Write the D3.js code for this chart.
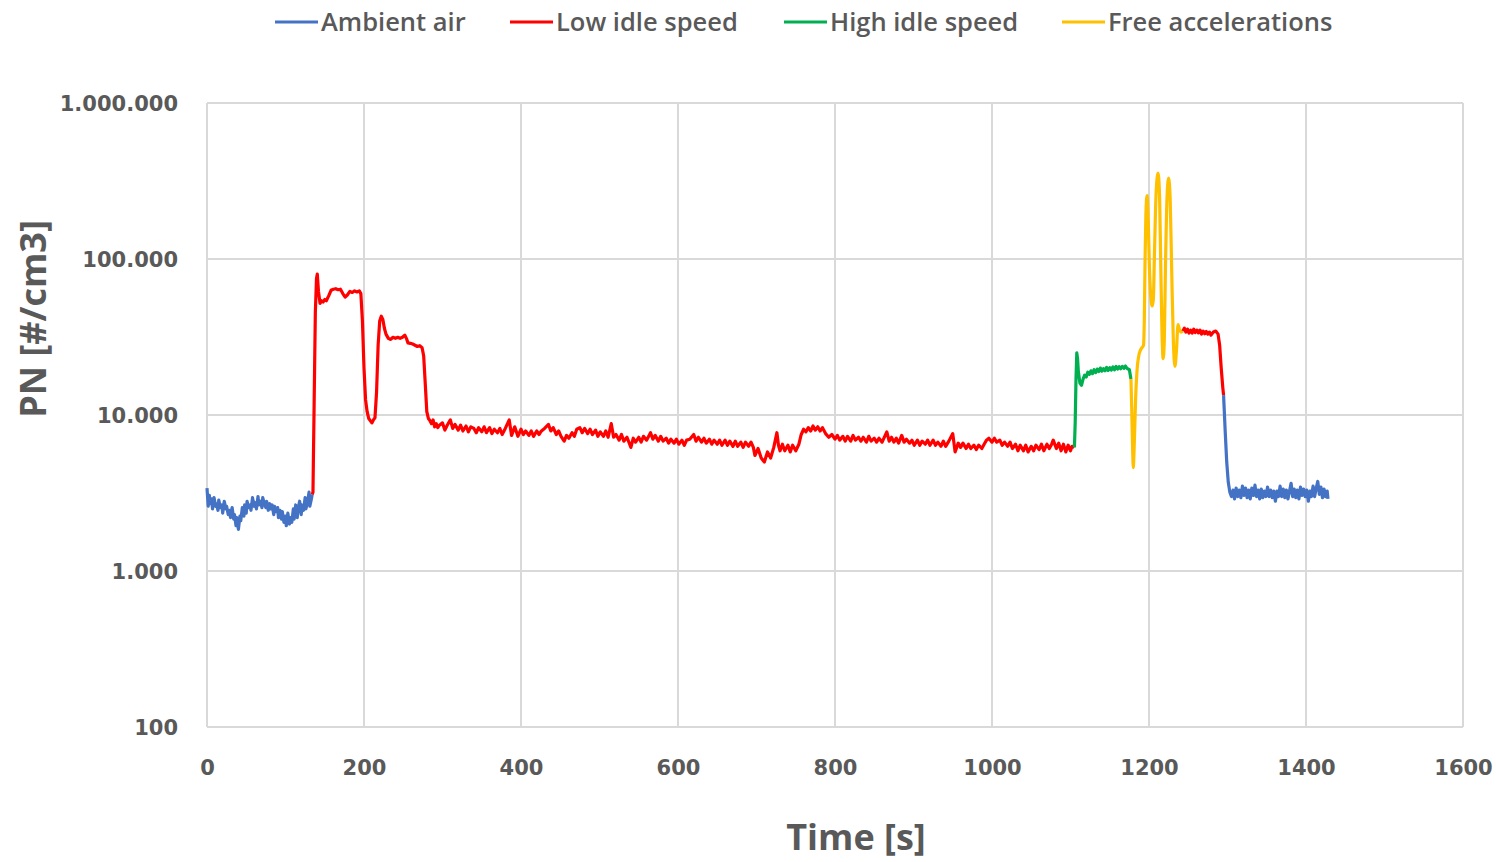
<!DOCTYPE html>
<html><head><meta charset="utf-8">
<script src="https://cdn.jsdelivr.net/npm/d3@7"></script>
<style>body{margin:0;background:#fff}svg{display:block}</style>
</head><body>
<script>
// ---- data: [time s, PN #/cm3] ----
const ambientStart = [[0,3400],[1.5,2600],[3,3050],[4,2700],[6,2900],[7,2500],[9,2950],[11,2600],[12,2700],[14,2450],[15,2850],[17,2550],[19,2650],[20,2350],[22,2800],[24,2500],[25,2600],[27,2300],[29,2450],[30,2200],[32,2550],[34,2150],[35,2300],[37,1950],[38,2200],[40,1850],[42,2250],[43,2100],[45,2550],[47,2250],[48,2650],[50,2350],[51,2800],[53,2550],[55,2650],[56,2450],[58,2950],[60,2600],[61,2750],[63,2500],[65,3000],[66,2650],[68,2800],[70,2550],[71,2950],[73,2700],[75,2550],[76,2800],[78,2450],[80,2700],[81,2500],[83,2650],[85,2300],[86,2600],[88,2400],[90,2550],[91,2200],[93,2450],[95,2150],[96,2400],[98,2050],[100,2250],[101,1950],[103,2350],[105,2000],[106,2200],[108,2050],[110,2500],[111,2150],[113,2650],[115,2200],[116,2500],[118,2800],[120,2300],[121,2650],[123,2450],[125,2950],[126,2500],[128,2750],[130,3200],[131,2600],[133,2900],[134,3100]];
const lowIdle1 = [[134,3100],[135,3200],[136.5,12000],[138,45000],[139.5,75000],[140.5,80000],[142,62000],[144,52000],[146,54000],[148,53000],[150,55000],[152,54000],[155,58000],[158,63000],[161,64000],[164,64500],[167,63500],[170,64000],[173,60000],[176,57000],[179,59000],[182,62000],[185,61000],[188,62500],[191,61500],[194,62500],[196,60000],[198,40000],[200,20000],[202,12500],[204,10500],[206,9500],[208,9200],[210,8900],[212,9300],[214,9600],[216,14000],[218,28000],[220,40000],[222,43000],[224,41000],[226,36000],[228,33000],[231,31000],[234,30500],[237,31500],[240,31000],[243,31500],[246,31000],[249,31500],[252,32500],[254,31000],[256,29000],[259,28800],[262,28500],[265,28000],[268,27500],[271,27800],[274,27000],[276,24000],[278,16000],[280,10500],[282,9500],[284,9200],[286,8800],[288,9300],[290,8400],[292,8800],[294,8300],[296,8600],
[300,8900],[303,8000],[306,8600],[310,9300],[313,8200],[316,8700],[320,8000],[323,8600],[326,7900],[330,8500],[333,7800],[336,8400],[340,8200],[343,7700],[346,8300],[350,7800],[353,8400],[356,7700],[360,8300],[363,7600],[366,8100],[370,7700],[373,8200],[376,7500],[380,8200],[385,9300],[388,7400],[392,8400],[396,7300],[400,8100],[403,7500],[406,7900],[410,7400],[413,7900],[416,7300],[420,7900],[423,7500],[426,7900],[430,8200],[435,8700],[438,7900],[441,8300],[445,7500],[448,7900],[451,7300],[455,6800],[458,7400],[461,7100],[465,7700],[468,7300],[471,8100],[475,8300],[478,7700],[481,8200],[485,7600],[488,8100],[491,7500],[495,8000],[498,7300],[501,7800],[505,7300],[508,7900],[511,7200],[515,8800],[518,7200],[521,7500],[525,6900],[528,7500],[531,6800],[535,7200],[540,6200],[543,7100],[546,6700],[550,7200],[553,6700],[556,7300],[560,6900],[565,7700],[568,7000],[571,7400],[575,6800],[578,7300],[581,6800],[585,7100],[588,6600],[591,7000],[595,6600],[598,7000],[601,6500],[605,6900],[608,6400],[611,6900],[615,7000],[620,7500],[623,6800],[626,7200],[630,6700],[633,7100],[636,6600],[640,7000],[643,6500],[646,6900],[650,6500],[653,6900],[656,6400],[660,6900],[663,6400],[666,6800],[670,6300],[673,6800],[676,6300],[680,6700],[683,6200],[686,6700],[690,6300],[693,6700],[696,6200],[698,5500],[702,6100],[706,5300],[710,5000],[714,5800],[718,5300],[722,6200],[726,7700],[728,6400],[730,5900],[733,6500],[736,5900],[740,6400],[743,5800],[746,6400],[750,5900],[754,6500],[757,7500],[760,8100],[763,7800],[766,8300],[769,7900],[772,8500],[775,8000],[778,8400],[781,7900],[784,8300],[788,7600],[792,7200],[796,7500],[800,7000],[803,7400],[806,6900],[810,7300],[813,6800],[816,7300],[820,6800],[823,7400],[826,6900],[830,7200],[833,6800],[836,7200],[840,6700],[843,7300],[846,6800],[850,7100],[853,6700],[856,7100],[860,6700],[866,7800],[869,6800],[872,7200],[875,6700],[878,7100],[881,6600],[885,7400],[888,6700],[891,7000],[895,6600],[898,6900],[901,6400],[905,6900],[908,6400],[911,6800],[915,6500],[918,6900],[921,6400],[925,6900],[928,6400],[931,6700],[935,6300],[938,6800],[941,6300],[945,6800],[950,7600],[953,5800],[957,6600],[960,6200],[963,6600],[967,6100],[970,6500],[973,6100],[977,6400],[980,6000],[983,6400],[987,6100],[990,6500],[993,6900],[996,7100],[1000,6700],[1003,7100],[1006,6700],[1010,6900],[1013,6400],[1016,6700],[1020,6300],[1023,6700],[1026,6100],[1030,6500],[1033,5900],[1036,6400],[1040,5900],[1043,6400],[1046,5800],[1050,6300],[1053,5900],[1056,6400],[1060,6000],[1063,6500],[1066,5900],[1070,6500],[1073,6100],[1076,6500],[1078,6900],[1082,6100],[1085,6600],[1088,5900],[1091,6500],[1094,5800],[1097,6400],[1100,5900],[1102,6300],[1105,6200]];
const highIdle = [[1105,6200],[1106,9000],[1107,17000],[1108,25000],[1109,23000],[1110,19000],[1112,16000],[1114,15500],[1116,17000],[1118,18000],[1120,17500],[1122,18800],[1124,18200],[1126,19200],[1128,18400],[1130,19500],[1132,18700],[1134,19700],[1136,19000],[1138,20000],[1140,19100],[1142,19800],[1144,19200],[1146,20200],[1148,19300],[1150,20100],[1152,19400],[1154,20300],[1156,19500],[1158,20500],[1160,19700],[1162,20400],[1164,19800],[1166,20500],[1168,19900],[1170,20600],[1172,19900],[1175,19500],[1177,17000]];
const freeAccel = [[1177,17000],[1178,11000],[1179,6500],[1180,4600],[1181,6000],[1183,13000],[1185,20000],[1187,24000],[1189,26000],[1191,27000],[1193,28000],[1194,40000],[1195,100000],[1196,190000],[1197.5,255000],[1199,180000],[1200.5,90000],[1202,60000],[1204,50000],[1205.5,55000],[1207,110000],[1209,260000],[1211.5,355000],[1213.5,250000],[1215,90000],[1216.5,35000],[1218,23000],[1219.5,30000],[1221,90000],[1223,250000],[1225,330000],[1227,240000],[1229,80000],[1231,30000],[1233,20500],[1235,26000],[1237,38000],[1239,35000],[1241,34000],[1243,34500]];
const lowIdle2 = [[1243,34500],[1245,36000],[1247,34000],[1249,35500],[1251,33500],[1253,35000],[1255,33500],[1257,35500],[1259,33800],[1261,35000],[1263,33600],[1265,35000],[1267,33000],[1269,34500],[1271,33200],[1273,34300],[1275,33000],[1277,34000],[1279,32500],[1282,34000],[1285,34500],[1288,33000],[1290,28000],[1292,20000],[1294,15000],[1295,13400]];
const ambientEnd = [[1295,13400],[1297,8000],[1299,5000],[1301,3700],[1303,3200],[1305,3000],[1307,3300],[1309,2900],[1311,3400],[1313,3000],[1315,3300],[1317,2950],[1319,3500],[1321,3050],[1323,3400],[1325,2950],[1327,3300],[1329,2900],[1331,3400],[1333,3050],[1335,3550],[1337,3000],[1339,3300],[1341,2900],[1343,3350],[1345,2950],[1347,3250],[1349,3000],[1351,3450],[1353,3000],[1355,3300],[1357,2950],[1359,3250],[1361,2800],[1363,3250],[1365,3000],[1367,3500],[1369,3000],[1371,3350],[1373,2950],[1375,3300],[1377,2900],[1379,3250],[1381,3650],[1383,3000],[1385,3350],[1387,2950],[1389,3300],[1391,2900],[1393,3450],[1395,3050],[1397,3350],[1399,3000],[1401,3300],[1403,2800],[1405,3250],[1407,3000],[1409,3500],[1411,3000],[1413,3400],[1415,3750],[1417,3100],[1419,3450],[1421,2950],[1423,3350],[1425,3000],[1427,3250],[1428,2900]];

const legendNames = ["Ambient air","Low idle speed","High idle speed","Free accelerations"];
const xTicks = [0,200,400,600,800,1000,1200,1400,1600];
const yTicks = [100,1000,10000,100000,1000000];
const yTickLabels = ["100","1.000","10.000","100.000","1.000.000"];

const colors = {"Ambient air":"#4472c4","Low idle speed":"#ff0000","High idle speed":"#00b050","Free accelerations":"#ffc000"};
const segments = [
  {name:"Ambient air", data:ambientStart, smooth:false},
  {name:"Low idle speed", data:lowIdle1, smooth:false},
  {name:"High idle speed", data:highIdle, smooth:false},
  {name:"Free accelerations", data:freeAccel, smooth:true},
  {name:"Low idle speed", data:lowIdle2, smooth:false},
  {name:"Ambient air", data:ambientEnd, smooth:false}
];

const W=1496,H=862, L=207,R=1463,T=103,B=727;
const svg=d3.select("body").append("svg").attr("width",W).attr("height",H);
const x=d3.scaleLinear().domain([0,1600]).range([L,R]);
const y=d3.scaleLog().domain([100,1000000]).range([B,T]);
const grey="#595959", grid="#d9d9d9";

// grid
svg.append("g").selectAll("line").data(xTicks).join("line")
  .attr("x1",d=>x(d)).attr("x2",d=>x(d)).attr("y1",T).attr("y2",B)
  .attr("stroke",grid).attr("stroke-width",2);
svg.append("g").selectAll("line").data(yTicks).join("line")
  .attr("x1",L).attr("x2",R).attr("y1",d=>y(d)).attr("y2",d=>y(d))
  .attr("stroke",grid).attr("stroke-width",2);

// axes
const xAxis=d3.axisBottom(x).tickValues(xTicks).tickSize(0).tickPadding(0).tickFormat(d3.format("d"));
const gx=svg.append("g").attr("transform",`translate(0,${B})`).call(xAxis);
gx.select(".domain").remove();
gx.selectAll("text").attr("dy",null).attr("y",48)
  .attr("font-family","DejaVu Sans").attr("font-weight","bold").attr("font-size",21).attr("fill",grey);
const yAxis=d3.axisLeft(y).tickValues(yTicks).tickSize(0).tickPadding(0).tickFormat((d,i)=>yTickLabels[i]);
const gy=svg.append("g").attr("transform",`translate(${L-29},0)`).call(yAxis);
gy.select(".domain").remove();
gy.selectAll("text").attr("dy","0.36em")
  .attr("font-family","DejaVu Sans").attr("font-weight","bold").attr("font-size",21).attr("fill",grey);

// lines
const lineLin=d3.line().x(d=>x(d[0])).y(d=>y(d[1]));
const lineSmooth=d3.line().x(d=>x(d[0])).y(d=>y(d[1])).curve(d3.curveMonotoneX);
svg.append("g").selectAll("path").data(segments).join("path")
  .attr("d",d=>(d.smooth?lineSmooth:lineLin)(d.data)).attr("fill","none")
  .attr("stroke",d=>colors[d.name]).attr("stroke-width",3.2).attr("stroke-linejoin","round");

// titles
svg.append("text").attr("x",856).attr("y",850).attr("text-anchor","middle")
  .attr("font-family","Open Sans").attr("font-weight",700).attr("font-size",36).attr("fill",grey).text("Time [s]");
svg.append("text").attr("transform","translate(46,319) rotate(-90)").attr("text-anchor","middle")
  .attr("font-family","Open Sans").attr("font-weight",700).attr("font-size",36).attr("fill",grey).text("PN [#/cm3]");

// legend
const legX=[275,510,784,1062];
const lg=svg.append("g").selectAll("g").data(legendNames).join("g")
  .attr("transform",(d,i)=>`translate(${legX[i]},22)`);
lg.append("line").attr("x1",0).attr("x2",43).attr("stroke",d=>colors[d]).attr("stroke-width",3);
lg.append("text").attr("x",46).attr("dy","0.35em")
  .attr("font-family","Open Sans").attr("font-weight",600).attr("font-size",25.5).attr("fill",grey).text(d=>d);
</script>
</body></html>
